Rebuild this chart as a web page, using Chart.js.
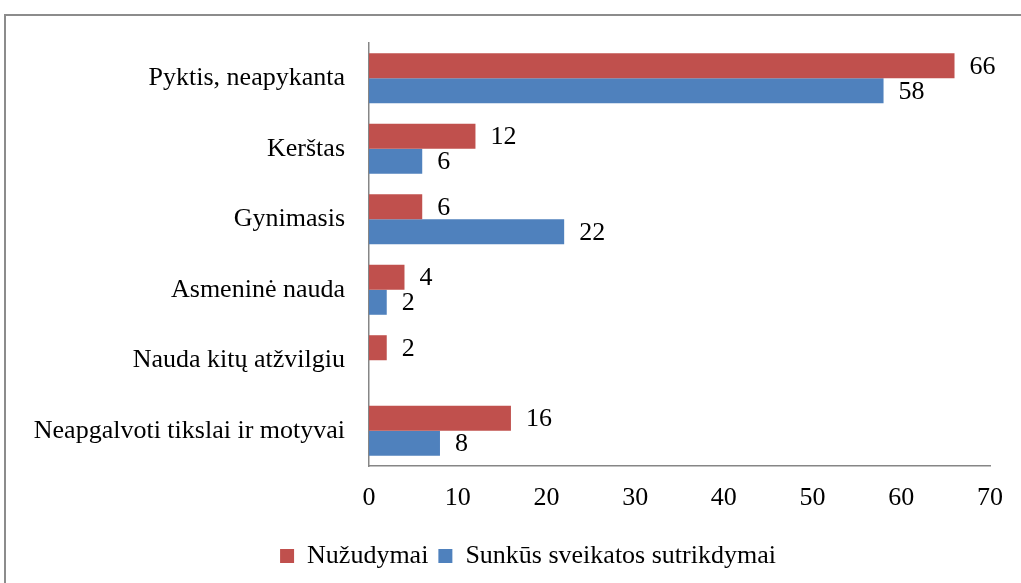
<!DOCTYPE html>
<html>
<head>
<meta charset="utf-8">
<script src="https://cdn.jsdelivr.net/npm/chart.js@4.4.1/dist/chart.umd.min.js"></script>
<style>
  body { margin: 0; background: #fff; }
  #frame { position: absolute; left: 4px; top: 14px; width: 1100px; height: 700px; border: 2px solid #8c8c8c; }
  #chart { position: absolute; left: 0; top: 0; }
</style>
</head>
<body>
<div id="frame"></div>
<canvas id="chart" width="1021" height="583"></canvas>
<script>
const categories = ['Pyktis, neapykanta', 'Kerštas', 'Gynimasis', 'Asmeninė nauda', 'Nauda kitų atžvilgiu', 'Neapgalvoti tikslai ir motyvai'];
const murders = [66, 12, 6, 4, 2, 16];
const injuries = [58, 6, 22, 2, 0, 8];
const xTicks = [0, 10, 20, 30, 40, 50, 60, 70];

const serif = '"Liberation Serif", "Times New Roman", serif';

// value labels to the right of each bar
const valueLabels = {
    id: 'valueLabels',
    afterDatasetsDraw(chart) {
        const ctx = chart.ctx;
        ctx.save();
        ctx.font = '26px ' + serif;
        ctx.fillStyle = '#000';
        ctx.textAlign = 'left';
        ctx.textBaseline = 'middle';
        chart.data.datasets.forEach((ds, i) => {
            chart.getDatasetMeta(i).data.forEach((bar, j) => {
                if (!ds.data[j]) return;
                ctx.fillText(ds.data[j], bar.x + 15, bar.y + 1);
            });
        });
        ctx.restore();
    }
};

// the legend sits a bit right of the canvas centre
const legendShift = {
    id: 'legendShift',
    afterLayout(chart) {
        chart.legend.left += 28;
        chart.legend.right += 28;
    }
};

new Chart(document.getElementById('chart'), {
    type: 'bar',
    data: {
        labels: categories,
        datasets: [
            { label: 'Nužudymai', data: murders, backgroundColor: '#C0504D' },
            { label: 'Sunkūs sveikatos sutrikdymai', data: injuries, backgroundColor: '#4F81BD' }
        ]
    },
    options: {
        indexAxis: 'y',
        responsive: false,
        animation: false,
        categoryPercentage: 0.71,
        barPercentage: 1.0,
        layout: { padding: { top: 43, left: 10, right: 31, bottom: 4 } },
        plugins: {
            tooltip: { enabled: false },
            legend: {
                position: 'bottom',
                labels: {
                    boxWidth: 14, boxHeight: 14, padding: 10,
                    color: '#000', font: { family: serif, size: 26 }
                }
            }
        },
        scales: {
            x: {
                min: 0, max: 70,
                afterBuildTicks: s => { s.ticks = xTicks.map(v => ({ value: v })); },
                afterFit: s => { s.height = 67; },
                grid: { display: false, drawTicks: false },
                border: { display: true, color: '#868686', width: 1.5 },
                ticks: { padding: 17, color: '#000', font: { family: serif, size: 26 } }
            },
            y: {
                afterFit: s => { s.width = 369 - 10; },
                grid: { display: false, drawTicks: false },
                border: { display: true, color: '#868686', width: 1.5 },
                ticks: { padding: 24, color: '#000', font: { family: serif, size: 26 } }
            }
        }
    },
    plugins: [valueLabels, legendShift]
});
</script>
</body>
</html>
